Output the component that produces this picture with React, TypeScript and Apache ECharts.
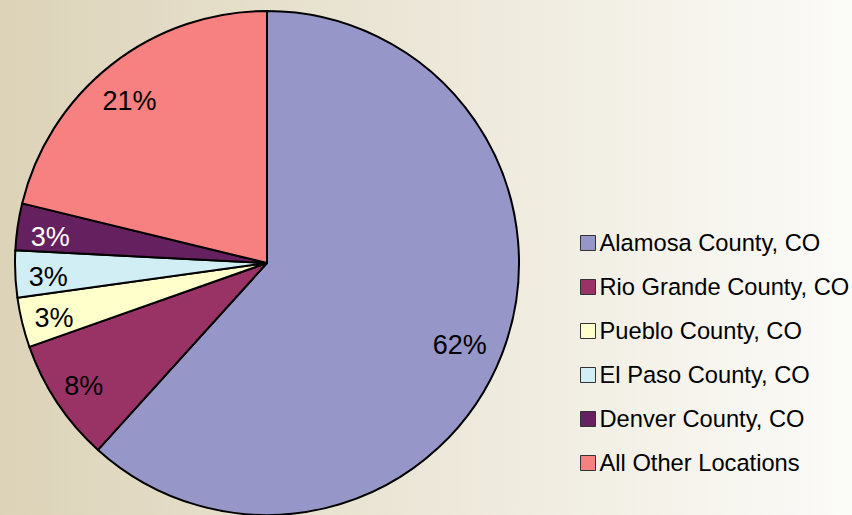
import React, { useEffect, useRef } from "react";
import * as echarts from "echarts";

const categories = [
  "Alamosa County, CO",
  "Rio Grande County, CO",
  "Pueblo County, CO",
  "El Paso County, CO",
  "Denver County, CO",
  "All Other Locations",
];
const values = [61.7, 7.9, 3.2, 3.0, 3.0, 21.2];
const colors = ["#9696C8", "#993366", "#FFFFCC", "#D2EEF5", "#65205F", "#F78080"];
const labelColors = ["#000", "#000", "#000", "#000", "#fff", "#000"];

export default function App() {
  const ref = useRef<HTMLDivElement>(null);
  useEffect(() => {
    if (!ref.current) return;
    const chart = echarts.init(ref.current, undefined, { renderer: "svg" });
    const font = "'Liberation Sans', Arial, sans-serif";
    const data = categories.map((name, i) => ({
      name,
      value: values[i],
      itemStyle: { color: colors[i] },
    }));
    chart.setOption({
      animation: false,
      backgroundColor: new echarts.graphic.LinearGradient(0, 0, 1, 0, [
        { offset: 0, color: "#DCD3B8" },
        { offset: 0.5, color: "#ECE7D8" },
        { offset: 1, color: "#FBFBF8" },
      ]),
      legend: {
        orient: "vertical",
        left: 575,
        top: 226,
        itemWidth: 15,
        itemHeight: 15,
        itemGap: 20,
        icon: "rect",
        data: categories,
        itemStyle: { borderColor: "#333", borderWidth: 1 },
        textStyle: {
          fontFamily: font,
          fontSize: 23.7,
          lineHeight: 24,
          color: "#000",
          padding: [0, 0, 0, -1],
        },
      },
      series: [
        {
          type: "pie",
          center: [267, 263],
          radius: [0, 252],
          startAngle: 90,
          clockwise: true,
          data,
          label: { show: false },
          labelLine: { show: false },
          itemStyle: { borderColor: "#000", borderWidth: 2 },
          emphasis: { disabled: true },
          silent: true,
        },
        {
          type: "pie",
          center: [267, 263],
          radius: [168, 252],
          startAngle: 90,
          clockwise: true,
          data: categories.map((name, i) => ({
            name,
            value: values[i],
            itemStyle: { color: "rgba(0,0,0,0)" },
            label: { color: labelColors[i] },
          })),
          itemStyle: { borderWidth: 0 },
          label: {
            show: true,
            position: "inside",
            fontFamily: font,
            fontSize: 27,
            offset: [-6, 5],
            formatter: (p: any) => Math.round(p.percent) + "%",
          },
          labelLine: { show: false },
          emphasis: { disabled: true },
          silent: true,
          legendHoverLink: false,
        },
      ],
    });
    return () => chart.dispose();
  }, []);
  return (
    <div
      ref={ref}
      style={{ position: "fixed", left: 0, top: 0, width: 852, height: 515 }}
    />
  );
}
